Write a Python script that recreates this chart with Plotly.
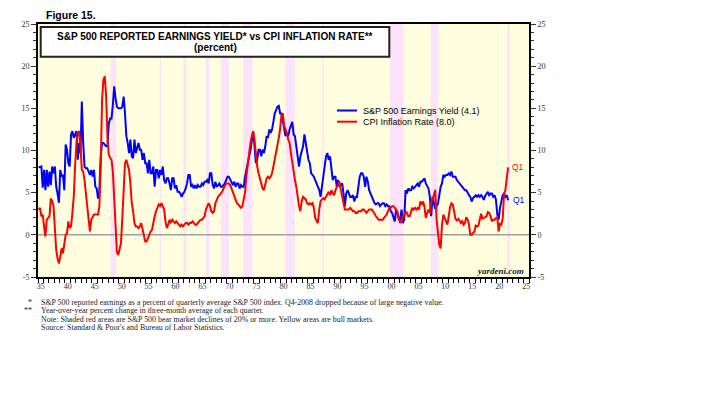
import plotly.graph_objects as go

# ---------------- data ----------------
start_year = 1935  # first quarter plotted is 1935 Q1; one value per quarter

# S&P 500 reported earnings yield (%), quarterly 1935Q1 .. 2022Q1
ey_values = [
    8.1, 8.0, 8.1, 5.6,    # 1935
    7.7, 5.3, 7.7, 5.7,    # 1936
    7.5, 5.9, 8.1, 7.3,    # 1937
    8.1, 5.7, 4.9, 3.8,    # 1938
    7.7, 6.9, 7.1, 5.3,    # 1939
    10.7, 10.1, 8.5, 8.1,  # 1940
    11.9, 12.3, 11.5, 11.9,  # 1941
    12.3, 8.9, 10.9, 9.7,  # 1942
    15.8, 10.9, 8.1, 7.9,  # 1943
    7.9, 7.5, 7.1, 7.7,    # 1944
    6.9, 7.7, 5.7, 5.5,    # 1945
    4.3, 5.3, 9.3, 10.9,   # 1946
    10.9, 10.7, 10.5, 10.5,  # 1947
    13.2, 13.8, 13.8, 15.4,  # 1948
    17.6, 16.2, 15.2, 15.0,  # 1949
    15.0, 15.0, 15.2, 16.4,  # 1950
    14.4, 11.7, 10.9, 9.7,   # 1951
    11.3, 9.3, 9.1, 11.3,    # 1952
    9.7, 10.3, 10.9, 10.1,   # 1953
    10.1, 8.9, 9.7, 8.5,     # 1954
    8.5, 7.3, 8.9, 7.3,      # 1955
    7.3, 8.1, 5.7, 7.7,      # 1956
    7.7, 6.7, 7.7, 7.1,      # 1957
    8.1, 6.5, 6.1, 6.7,      # 1958
    6.7, 6.1, 5.3, 6.7,      # 1959
    6.7, 5.5, 5.9, 5.1,      # 1960
    5.1, 4.9, 4.5, 4.9,      # 1961
    5.1, 5.5, 6.1, 7.1,      # 1962
    7.1, 5.7, 5.9, 5.5,      # 1963
    5.9, 5.5, 5.9, 5.7,      # 1964
    5.7, 6.1, 5.9, 6.3,      # 1965
    6.3, 6.5, 6.1, 7.3,      # 1966
    7.3, 5.9, 5.5, 6.3,      # 1967
    5.7, 5.9, 6.1, 5.7,      # 1968
    5.7, 5.9, 6.1, 6.5,      # 1969
    6.9, 6.9, 6.5, 6.1,      # 1970
    5.9, 6.3, 5.7, 6.1,      # 1971
    6.1, 5.5, 5.9, 5.7,      # 1972
    5.7, 6.9, 7.7, 8.9,      # 1973
    9.3, 10.0, 11.5, 12.3,   # 1974
    10.5, 8.5, 8.9, 10.1,    # 1975
    10.1, 9.3, 10.1, 9.7,    # 1976
    10.5, 11.7, 11.5, 12.5,  # 1977
    12.1, 12.5, 13.4, 14.4,  # 1978
    14.8, 15.2, 15.3, 14.4,  # 1979
    14.4, 13.6, 12.5, 11.7,  # 1980
    12.1, 11.7, 12.5, 13.0,  # 1981
    13.4, 11.9, 11.7, 10.5,  # 1982
    8.9, 8.1, 9.3, 10.0,     # 1983
    10.5, 11.9, 10.9, 9.7,   # 1984
    8.9, 8.5, 7.3, 7.1,      # 1985
    6.9, 6.5, 6.1, 5.7,      # 1986
    5.3, 4.5, 5.7, 7.3,      # 1987
    8.1, 9.3, 9.7, 8.9,      # 1988
    9.3, 8.1, 6.5, 6.9,      # 1989
    6.9, 5.7, 6.5, 5.7,      # 1990
    5.9, 6.1, 4.9, 3.4,      # 1991
    4.9, 5.3, 4.9, 4.5,      # 1992
    4.5, 4.7, 3.95, 4.5,     # 1993
    4.5, 6.1, 6.9, 7.3,      # 1994
    7.3, 6.9, 5.7, 6.9,      # 1995
    6.3, 5.3, 4.9, 4.7,      # 1996
    4.3, 3.75, 3.6, 3.75,    # 1997
    3.75, 3.4, 3.6, 3.75,    # 1998
    3.75, 3.4, 3.6, 3.4,     # 1999
    3.4, 2.8, 2.6, 2.2,      # 2000
    1.6, 3.0, 2.6, 1.8,      # 2001
    1.8, 3.0, 1.4, 1.8,      # 2002
    5.3, 4.9, 5.5, 5.3,      # 2003
    5.3, 5.7, 5.5, 5.7,      # 2004
    5.9, 6.1, 5.7, 6.3,      # 2005
    6.3, 6.5, 6.7, 6.1,      # 2006
    5.7, 5.5, 4.5, 2.2,      # 2007
    4.5, 3.7, 3.1, None,     # 2008 (Q4 dropped)
    3.7, 4.9, 5.7, 6.1,      # 2009
    7.1, 6.9, 7.1, 7.1,      # 2010
    7.3, 7.1, 7.5, 6.9,      # 2011
    6.9, 6.9, 6.5, 6.3,      # 2012
    6.1, 5.9, 5.7, 5.5,      # 2013
    5.3, 5.3, 4.9, 4.7,      # 2014
    4.5, 3.95, 4.35, 4.5,    # 2015
    4.7, 4.5, 4.7, 4.5,      # 2016
    4.7, 4.5, 4.15, 4.6,     # 2017
    4.9, 5.1, 4.7, 4.9,      # 2018
    4.9, 4.5, 4.7, 4.15,     # 2019
    2.4, 1.8, 3.2, 3.9,      # 2020
    4.7, 4.9, 4.5, 4.7,      # 2021
    4.1,                     # 2022 Q1
]

# CPI inflation rate (%), quarterly 1935Q1 .. 2022Q1
cpi_values = [
    3.0, 3.2, 2.2, 2.4,      # 1935
    1.0, -0.2, 1.8, 2.0,     # 1936
    2.2, 4.3, 4.0, 3.4,      # 1937
    0.2, -1.8, -2.8, -3.4,   # 1938
    -2.6, -1.6, -2.2, -1.0,  # 1939
    0.0, 0.2, 1.6, 0.8,      # 1940
    1.0, 2.6, 4.5, 8.1,      # 1941
    10.9, 12.1, 12.3, 10.5,  # 1942
    7.7, 7.5, 6.5, 4.9,      # 1943
    3.4, 2.2, 0.4, 1.8,      # 1944
    2.2, 2.4, 2.4, 2.4,      # 1945
    2.4, 3.4, 8.0, 16.0,     # 1946
    18.4, 18.8, 16.5, 11.5,  # 1947
    9.5, 9.1, 8.9, 7.5,      # 1948
    4.0, 0.5, -2.0, -2.4,    # 1949
    -1.6, -1.0, 2.0, 5.5,    # 1950
    8.5, 8.9, 8.1, 7.7,      # 1951
    6.1, 3.8, 2.8, 1.4,      # 1952
    1.0, 1.0, 0.8, 1.0,      # 1953
    1.4, 0.6, -0.2, -0.8,    # 1954
    -0.8, -0.4, 0.2, 0.4,    # 1955
    0.6, 1.6, 2.2, 2.8,      # 1956
    3.2, 3.6, 3.4, 3.75,     # 1957
    3.4, 3.0, 1.6, 0.8,      # 1958
    1.2, 1.8, 1.4, 1.8,      # 1959
    1.6, 1.4, 1.6, 1.4,      # 1960
    1.2, 1.0, 1.2, 1.0,      # 1961
    1.2, 1.4, 1.4, 1.2,      # 1962
    1.4, 1.4, 1.6, 1.4,      # 1963
    1.2, 1.2, 1.4, 1.6,      # 1964
    1.8, 1.8, 2.0, 2.2,      # 1965
    3.0, 3.4, 3.75, 3.4,     # 1966
    2.8, 2.6, 2.8, 3.75,     # 1967
    4.2, 4.5, 4.7, 4.9,      # 1968
    5.1, 5.5, 5.9, 6.1,      # 1969
    6.1, 6.1, 5.9, 5.5,      # 1970
    4.9, 4.5, 4.2, 3.75,     # 1971
    3.6, 3.4, 3.2, 3.4,      # 1972
    4.2, 5.0, 7.0, 8.4,      # 1973
    9.7, 10.9, 11.7, 12.3,   # 1974
    11.3, 9.3, 8.1, 7.3,     # 1975
    6.7, 5.9, 5.5, 5.3,      # 1976
    6.1, 6.7, 6.9, 6.7,      # 1977
    6.9, 7.3, 8.1, 8.9,      # 1978
    9.6, 10.5, 11.5, 12.6,   # 1979
    14.2, 14.4, 12.9, 12.5,  # 1980
    12.1, 11.3, 10.9, 9.7,   # 1981
    8.5, 7.3, 6.5, 5.7,      # 1982
    4.2, 3.4, 2.8, 4.0,      # 1983
    4.5, 4.35, 4.2, 3.75,    # 1984
    3.6, 3.75, 3.6, 3.75,    # 1985
    3.2, 2.0, 1.6, 1.4,      # 1986
    3.0, 4.0, 4.2, 4.35,     # 1987
    4.2, 4.5, 4.9, 5.1,      # 1988
    4.7, 5.3, 4.9, 4.7,      # 1989
    5.3, 5.7, 6.1, 6.3,      # 1990
    5.3, 4.5, 3.8, 3.0,      # 1991
    3.0, 3.0, 3.0, 3.2,      # 1992
    3.0, 2.8, 2.8, 2.6,      # 1993
    2.6, 2.8, 2.8, 2.8,      # 1994
    3.0, 3.0, 2.8, 2.6,      # 1995
    2.8, 3.0, 3.0, 3.0,      # 1996
    2.8, 2.4, 2.2, 2.0,      # 1997
    1.8, 1.8, 1.8, 1.8,      # 1998
    2.0, 2.2, 2.4, 2.8,      # 1999
    3.2, 3.2, 3.4, 3.4,      # 2000
    3.2, 3.0, 2.6, 1.8,      # 2001
    1.4, 1.6, 2.2, 2.2,      # 2002
    2.8, 2.6, 2.2, 2.2,      # 2003
    2.6, 3.2, 3.0, 3.2,      # 2004
    3.0, 3.2, 3.0, 3.95,     # 2005
    3.6, 3.95, 3.3, 2.0,     # 2006
    2.6, 3.0, 2.6, 3.95,     # 2007
    4.15, 4.7, 5.3, 1.8,     # 2008
    0.0, -1.2, -1.6, 1.2,    # 2009
    2.4, 2.0, 1.4, 1.2,      # 2010
    2.2, 3.3, 3.75, 3.6,     # 2011
    2.8, 1.9, 1.7, 1.9,      # 2012
    1.7, 1.4, 1.6, 1.2,      # 2013
    1.4, 2.1, 1.8, 1.2,      # 2014
    0.0, 0.0, 0.2, 0.4,      # 2015
    1.1, 1.0, 1.1, 1.8,      # 2016
    2.5, 1.9, 2.0, 2.1,      # 2017
    2.2, 2.7, 2.6, 2.2,      # 2018
    1.6, 1.8, 1.8, 2.0,      # 2019
    2.1, 0.4, 1.3, 1.2,      # 2020
    1.9, 4.8, 5.3, 6.7,      # 2021
    8.0,                     # 2022 Q1
]

# S&P 500 bear markets (decimal years) shaded in pink
bear_starts = [1948.45, 1957.54, 1961.95, 1966.11, 1968.91, 1973.03,
               1980.91, 1987.65, 2000.23, 2007.77, 2020.13, 2022.00]
bear_ends = [1949.45, 1957.81, 1962.49, 1966.77, 1970.40, 1974.76,
             1982.61, 1987.93, 2002.77, 2009.19, 2020.23, 2022.45]

label_years = list(range(1935, 2026, 5))
x_ticktext = ["35", "40", "45", "50", "55", "60", "65", "70", "75", "80",
              "85", "90", "95", "00", "05", "10", "15", "20", "25"]
y_tickvals = [-5, 0, 5, 10, 15, 20, 25]
y_ticktext = ["-5", "0", "5", "10", "15", "20", "25"]

ey_name = "S&P 500 Earnings Yield (4.1)"
cpi_name = "CPI Inflation Rate (8.0)"

footnotes = [
    ("*", "S&P 500 reported earnings as a percent of quarterly average S&P 500 index. Q4-2008 dropped because of large negative value."),
    ("**", "Year-over-year percent change in three-month average of each quarter."),
    ("", "Note: Shaded red areas are S&P 500 bear market declines of 20% or more. Yellow areas are bull markets."),
    ("", "Source: Standard & Poor's and Bureau of Labor Statistics."),
]

# ---------------- layout geometry ----------------
W, H = 708, 400
L, R, T, B = 38, 179, 24, 123
PW, PH = W - L - R, H - T - B

def px(xp):
    return (xp - L) / PW

def py(yp):
    return (H - B - yp) / PH

quarter_x = [start_year + 0.125 + 0.25 * i for i in range(len(ey_values))]
quarter_x_cpi = [start_year + 0.125 + 0.25 * i for i in range(len(cpi_values))]

BLUE = "#0000FF"
RED = "#FF0000"
SANS = "Arial, 'Liberation Sans', sans-serif"
SERIF = "'Times New Roman', 'Liberation Serif', serif"

fig = go.Figure()
fig.add_trace(go.Scatter(x=quarter_x, y=ey_values, mode="lines", name=ey_name,
                         line=dict(color=BLUE, width=2), connectgaps=True,
                         showlegend=False, hoverinfo="x+y"))
fig.add_trace(go.Scatter(x=quarter_x_cpi, y=cpi_values, mode="lines", name=cpi_name,
                         line=dict(color=RED, width=2),
                         showlegend=False, hoverinfo="x+y"))
# dummy trace so the right-hand axis is drawn
fig.add_trace(go.Scatter(x=[start_year], y=[None], yaxis="y2", mode="lines",
                         showlegend=False, hoverinfo="skip"))

shapes = []
for s, e in zip(bear_starts, bear_ends):
    shapes.append(dict(type="rect", xref="x", yref="paper", x0=s, x1=e, y0=0, y1=1,
                       fillcolor="#FCE2FA", line=dict(width=0), layer="below"))
shapes.append(dict(type="line", xref="paper", yref="y", x0=0, x1=1, y0=0, y1=0,
                   line=dict(color="#A0A0A0", width=1.5), layer="below"))
# title box
shapes.append(dict(type="rect", xref="paper", yref="paper",
                   x0=px(40.7), x1=px(389.3), y0=py(56.7), y1=py(27),
                   fillcolor="white", line=dict(color="#222222", width=2), layer="above"))
# legend line samples
shapes.append(dict(type="line", xref="paper", yref="paper", x0=px(337), x1=px(357),
                   y0=py(110.5), y1=py(110.5), line=dict(color=BLUE, width=2)))
shapes.append(dict(type="line", xref="paper", yref="paper", x0=px(337), x1=px(357),
                   y0=py(121.7), y1=py(121.7), line=dict(color=RED, width=2)))

ann = []
ann.append(dict(text="<b>Figure 15.</b>", xref="paper", yref="paper", x=px(44), y=py(15),
                xanchor="left", yanchor="middle", showarrow=False,
                font=dict(family=SANS, size=10.5, color="black")))
ann.append(dict(text="<b>S&P 500 REPORTED EARNINGS YIELD* vs CPI INFLATION RATE**</b>",
                xref="paper", yref="paper", x=px(215), y=py(36.3),
                xanchor="center", yanchor="middle", showarrow=False,
                font=dict(family=SANS, size=10, color="black")))
ann.append(dict(text="<b>(percent)</b>", xref="paper", yref="paper", x=px(215), y=py(47.3),
                xanchor="center", yanchor="middle", showarrow=False,
                font=dict(family=SANS, size=10, color="black")))
ann.append(dict(text=ey_name, xref="paper", yref="paper", x=px(360.5), y=py(110.5),
                xanchor="left", yanchor="middle", showarrow=False,
                font=dict(family=SANS, size=9, color="black")))
ann.append(dict(text=cpi_name, xref="paper", yref="paper", x=px(360.5), y=py(121.7),
                xanchor="left", yanchor="middle", showarrow=False,
                font=dict(family=SANS, size=9, color="black")))
ann.append(dict(text="Q1", xref="x", yref="y", x=quarter_x_cpi[-1], y=cpi_values[-1],
                xanchor="left", yanchor="middle", xshift=2, showarrow=False,
                font=dict(family=SANS, size=8.5, color=RED)))
ann.append(dict(text="Q1", xref="x", yref="y", x=quarter_x[-1], y=ey_values[-1],
                xanchor="left", yanchor="middle", xshift=3, showarrow=False,
                font=dict(family=SANS, size=8.5, color=BLUE)))
ann.append(dict(text="<b><i>yardeni.com</i></b>", xref="paper", yref="paper",
                x=px(526), y=py(271), xanchor="right", yanchor="middle", showarrow=False,
                font=dict(family=SERIF, size=9, color="#222222")))
foot_y = [302, 310.5, 319, 327.5]
for (mark, txt), yy in zip(footnotes, foot_y):
    if mark:
        ann.append(dict(text=mark, xref="paper", yref="paper", x=px(34), y=py(yy),
                        xanchor="right", yanchor="middle", showarrow=False,
                        font=dict(family=SERIF, size=8, color="#222222")))
    ann.append(dict(text=txt, xref="paper", yref="paper", x=px(39), y=py(yy),
                    xanchor="left", yanchor="middle", showarrow=False,
                    font=dict(family=SERIF, size=7.9, color="#222222")))

tickfont = dict(family=SERIF, size=8, color="#333333")
fig.update_layout(
    width=W, height=H,
    margin=dict(l=L, r=R, t=T, b=B, pad=0),
    paper_bgcolor="white", plot_bgcolor="#FFFFE0",
    showlegend=False,
    shapes=shapes, annotations=ann,
    xaxis=dict(range=[1935, 2026], showgrid=False, zeroline=False,
               showline=True, linecolor="black", linewidth=2, mirror=True,
               tickmode="array", tickvals=[y + 0.5 for y in label_years], ticktext=x_ticktext,
               ticks="", tickfont=tickfont,
               minor=dict(tickmode="linear", tick0=1935, dtick=1, ticks="outside",
                          ticklen=4, tickwidth=1, tickcolor="black", showgrid=False)),
    yaxis=dict(range=[-5, 25], showgrid=False, zeroline=False,
               showline=True, linecolor="black", linewidth=2,
               tickmode="array", tickvals=y_tickvals, ticktext=y_ticktext,
               ticks="outside", ticklen=5, tickwidth=1, tickcolor="#333333", tickfont=tickfont,
               minor=dict(tickmode="linear", tick0=0, dtick=1, ticks="outside",
                          ticklen=3, tickwidth=1, tickcolor="#333333", showgrid=False)),
    yaxis2=dict(range=[-5, 25], overlaying="y", side="right", showgrid=False, zeroline=False,
                showline=True, linecolor="black", linewidth=2,
                tickmode="array", tickvals=y_tickvals, ticktext=y_ticktext,
                ticks="outside", ticklen=5, tickwidth=1, tickcolor="#333333", tickfont=tickfont,
                minor=dict(tickmode="linear", tick0=0, dtick=1, ticks="outside",
                           ticklen=3, tickwidth=1, tickcolor="#333333", showgrid=False)),
)

fig.write_html("out.html", config={"displayModeBar": False},
               post_script="document.body.style.margin='0px';document.body.style.overflow='hidden';")
